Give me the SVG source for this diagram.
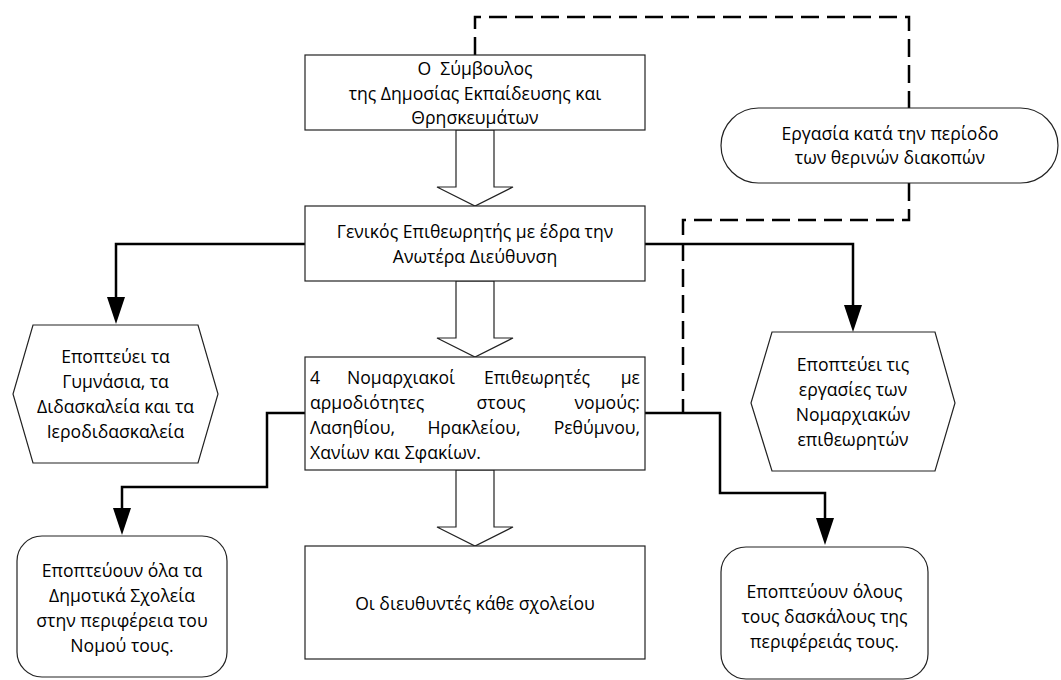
<svg xmlns="http://www.w3.org/2000/svg" width="1061" height="680" viewBox="0 0 1061 680">
<defs>
<style>
.box{fill:#fff;stroke:#222;stroke-width:1.2}
.t{font-family:"Open Sans","Liberation Sans",sans-serif;font-size:17.6px;fill:#000}
.c{text-anchor:middle}
.e{text-anchor:end}
.con{fill:none;stroke:#000;stroke-width:2.5}
.dash{fill:none;stroke:#000;stroke-width:2.5;stroke-dasharray:18 8}
.blk{fill:#fff;stroke:#222;stroke-width:1.2}
</style>
</defs>
<rect width="1061" height="680" fill="#fff"/>
<g id="connectors">
<path class="dash" d="M475,55 V17 H909 V108"/>
<path class="dash" d="M909,183 V220 H683 V413"/>
<path class="con" d="M305,244 H116 V297"/>
<path d="M107,297 L125,297 L116,324 Z" fill="#000"/>
<path class="con" d="M645,244 H853 V305"/>
<path d="M844,305 L862,305 L853,332 Z" fill="#000"/>
<path class="con" d="M305,413 H267 V487 H122 V508"/>
<path d="M113,508 L131,508 L122,535 Z" fill="#000"/>
<path class="con" d="M645,413 H720 V493 H825 V518"/>
<path d="M816,518 L834,518 L825,545 Z" fill="#000"/>
<path class="blk" d="M456,130 V187 H437 L475,206 L513,187 H494 V130 Z"/>
<path class="blk" d="M456,281 V338 H437 L475,357 L513,338 H494 V281 Z"/>
<path class="blk" d="M456,470 V527 H437 L475,546 L513,527 H494 V470 Z"/>
</g>
<g id="n-symvoulos">
<rect class="box" x="305" y="55" width="340" height="75"/>
<text class="t c" x="475" y="75" xml:space="preserve">Ο  Σύμβουλος</text>
<text class="t c" x="475" y="99.5">της Δημοσίας Εκπαίδευσης και</text>
<text class="t c" x="475" y="124">Θρησκευμάτων</text>
</g>
<g id="n-ergasia">
<rect class="box" x="721" y="108" width="337" height="75" rx="37.5" ry="37.5"/>
<text class="t c" x="890" y="140">Εργασία κατά την περίοδο</text>
<text class="t c" x="890" y="164">των θερινών διακοπών</text>
</g>
<g id="n-genikos">
<rect class="box" x="305" y="206" width="340" height="75"/>
<text class="t c" x="475" y="238">Γενικός Επιθεωρητής με έδρα την</text>
<text class="t c" x="475" y="263">Ανωτέρα Διεύθυνση</text>
</g>
<g id="n-gymnasia">
<path class="box" d="M33,325 H198 L218,394 L198,463 H33 L13,394 Z"/>
<text class="t c" x="115.5" y="362.5">Εποπτεύει τα</text>
<text class="t c" x="115.5" y="387.5">Γυμνάσια, τα</text>
<text class="t c" x="115.5" y="412.5">Διδασκαλεία και τα</text>
<text class="t c" x="115.5" y="437.5">Ιεροδιδασκαλεία</text>
</g>
<g id="n-ergasies">
<path class="box" d="M772,332 H935 L955,403 L935,471 H772 L751,403 Z"/>
<text class="t c" x="853" y="371">Εποπτεύει τις</text>
<text class="t c" x="853" y="396">εργασίες των</text>
<text class="t c" x="853" y="421">Νομαρχιακών</text>
<text class="t c" x="853" y="446">επιθεωρητών</text>
</g>
<g id="n-nomarxiakoi">
<rect class="box" x="305" y="357" width="340" height="113"/>
<text class="t" x="310" y="384">4</text>
<text class="t c" x="401" y="384">Νομαρχιακοί</text>
<text class="t c" x="537" y="384">Επιθεωρητές</text>
<text class="t e" x="640" y="384">με</text>
<text class="t" x="310" y="408.5">αρμοδιότητες</text>
<text class="t c" x="501" y="408.5">στους</text>
<text class="t e" x="640" y="408.5">νομούς:</text>
<text class="t" x="310" y="433.5">Λασηθίου,</text>
<text class="t c" x="474" y="433.5">Ηρακλείου,</text>
<text class="t e" x="640" y="433.5">Ρεθύμνου,</text>
<text class="t" x="310" y="458.5">Χανίων και Σφακίων.</text>
</g>
<g id="n-dimotika">
<rect class="box" x="17" y="536" width="210" height="141" rx="25" ry="25"/>
<text class="t c" x="122" y="577">Εποπτεύουν όλα τα</text>
<text class="t c" x="122" y="602">Δημοτικά Σχολεία</text>
<text class="t c" x="122" y="627">στην περιφέρεια του</text>
<text class="t c" x="122" y="652">Νομού τους.</text>
</g>
<g id="n-dieuthyntes">
<rect class="box" x="305" y="546" width="340" height="113"/>
<text class="t c" x="475" y="610">Οι διευθυντές κάθε σχολείου</text>
</g>
<g id="n-daskaloi">
<rect class="box" x="721" y="547" width="207" height="132" rx="25" ry="25"/>
<text class="t c" x="824.5" y="598">Εποπτεύουν όλους</text>
<text class="t c" x="824.5" y="623">τους δασκάλους της</text>
<text class="t c" x="824.5" y="648">περιφέρειάς τους.</text>
</g>
</svg>
